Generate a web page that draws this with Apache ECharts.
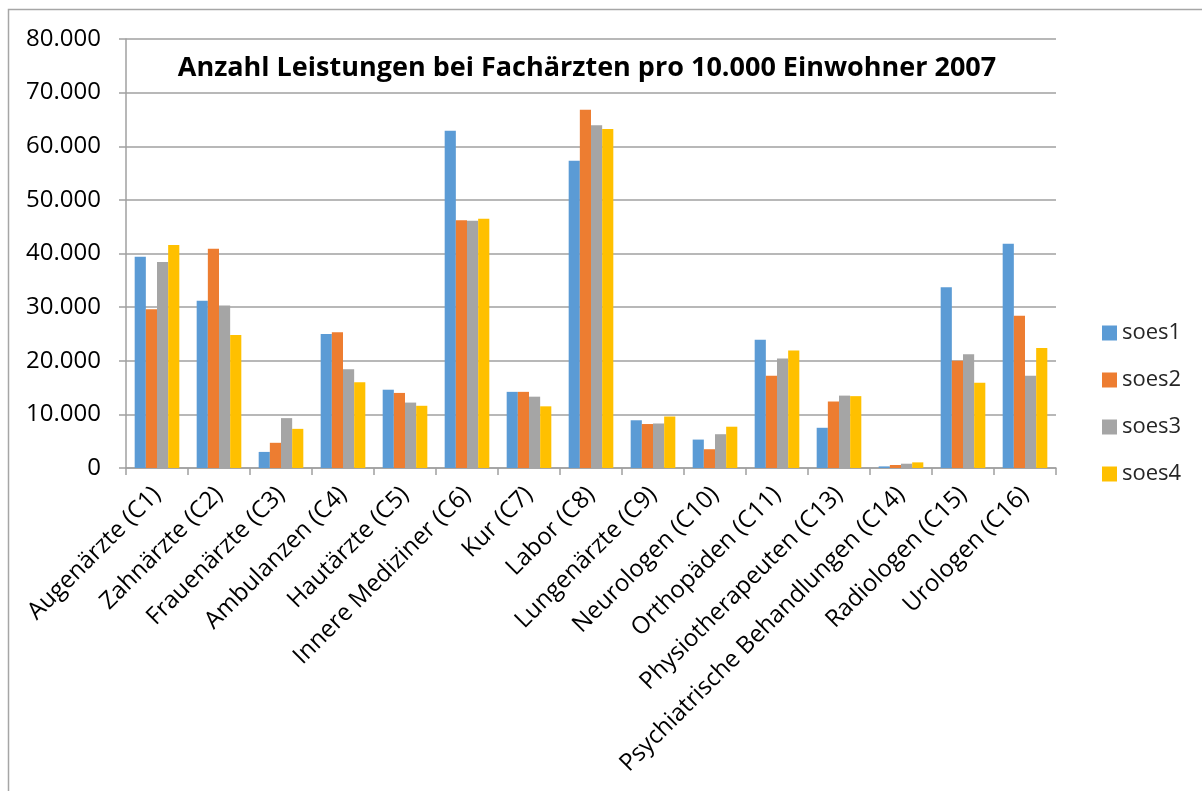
<!DOCTYPE html>
<html>
<head>
<meta charset="utf-8">
<script src="https://cdn.jsdelivr.net/npm/echarts@6/dist/echarts.min.js"></script>
<style>
html,body{margin:0;padding:0;background:#fff;}
#chart{width:1202px;height:791px;}
</style>
</head>
<body>
<div id="chart"></div>
<script>
const categories = ["Augenärzte (C1)","Zahnärzte (C2)","Frauenärzte (C3)","Ambulanzen (C4)","Hautärzte (C5)","Innere Mediziner (C6)","Kur (C7)","Labor (C8)","Lungenärzte (C9)","Neurologen (C10)","Orthopäden (C11)","Physiotherapeuten (C13)","Psychiatrische Behandlungen (C14)","Radiologen (C15)","Urologen (C16)"];
const soes1 = [39400,31200,3000,25000,14600,62900,14200,57300,8900,5300,23900,7500,300,33700,41800];
const soes2 = [29600,40900,4700,25300,14000,46200,14200,66800,8200,3500,17200,12400,560,20000,28400];
const soes3 = [38400,30300,9300,18400,12200,46100,13300,63900,8300,6300,20400,13500,800,21200,17200];
const soes4 = [41600,24800,7300,16000,11600,46500,11500,63200,9600,7700,21900,13400,1050,15900,22400];
const seriesNames = ["soes1","soes2","soes3","soes4"];
const colors = ["#5b9bd5","#ed7d31","#a5a5a5","#ffc000"];
const titleText = "Anzahl Leistungen bei Fachärzten pro 10.000 Einwohner 2007";

const FONT = "'Open Sans', sans-serif";
const chart = echarts.init(document.getElementById('chart'), null, {renderer:'canvas'});
const fmt = v => String(v).replace(/\B(?=(\d{3})+(?!\d))/g, '.');
const dataSets = [soes1, soes2, soes3, soes4];

chart.setOption({
  animation:false,
  backgroundColor:'#fff',
  color: colors,
  title:{
    text:titleText, left:582, top:50, textAlign:'center',
    textStyle:{fontFamily:FONT, fontWeight:'bold', fontSize:27, color:'#000'}
  },
  graphic:[{type:'rect', shape:{x:8.5,y:9.5,width:1250,height:850}, style:{fill:'none', stroke:'#a6a6a6', lineWidth:1.5}, silent:true}],
  legend:{
    orient:'vertical', left:1097, top:317, itemGap:25, itemWidth:15, itemHeight:15,
    icon:'rect',
    textStyle:{fontFamily:FONT, fontSize:22, color:'#262626'},
    data: seriesNames
  },
  grid:{left:126, right:146, top:39, bottom:323, containLabel:false},
  xAxis:{
    type:'category', data:categories,
    axisLine:{lineStyle:{color:'#a0a0a0', width:1.5}},
    axisTick:{show:true, length:7, lineStyle:{color:'#a0a0a0', width:1.5}},
    axisLabel:{rotate:45, interval:0, margin:23, fontFamily:FONT, fontSize:24, color:'#000'}
  },
  yAxis:{
    type:'value', min:0, max:80000, interval:10000,
    axisLine:{show:true, lineStyle:{color:'#a0a0a0', width:1.5}},
    axisTick:{show:true, length:7, lineStyle:{color:'#a0a0a0', width:1.5}},
    splitLine:{lineStyle:{color:'#a0a0a0', width:1.5}},
    axisLabel:{formatter:fmt, margin:25, fontFamily:FONT, fontSize:24, color:'#000'}
  },
  series: seriesNames.map((n,i)=>({
    name:n, type:'bar', data:dataSets[i], barGap:'0%', barCategoryGap:'28%',
    itemStyle:{color:colors[i]}
  }))
});
</script>
</body>
</html>
